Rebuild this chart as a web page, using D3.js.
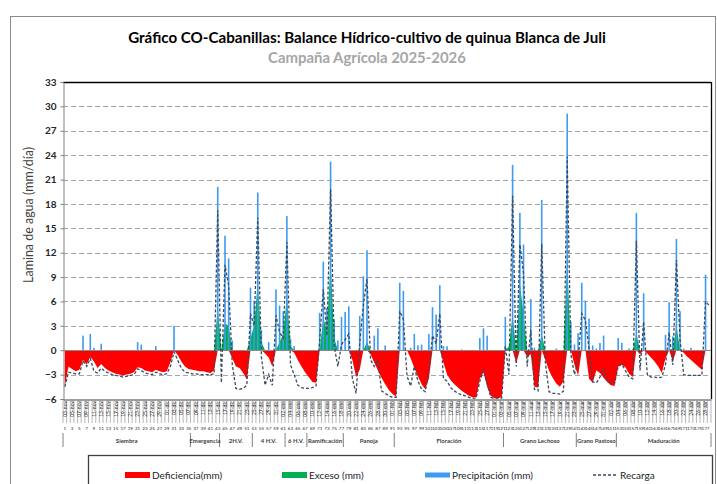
<!DOCTYPE html>
<html>
<head>
<meta charset="utf-8">
<script src="https://cdn.jsdelivr.net/npm/d3@7"></script>
<style>
  body { margin: 0; background: #fff; }
  text { font-family: Lato, "Open Sans", sans-serif; }
</style>
</head>
<body>
<div id="chart"></div>
<script>
// ---- data (day 1 = 03-nov-2025) ----
var startDate = "2025-11-03";
var nDays = 178;

var precipitacion = [
  0, 0, 0, 0, 0, 1.8, 0, 2.0, 0.3, 0,
  0.8, 0, 0, 0, 0, 0, 0, 0, 0, 0,
  1.0, 0.7, 0, 0, 0, 0.5, 0, 0, 0, 0,
  3.0, 0, 0, 0, 0, 0, 0, 0, 0, 0,
  0, 0, 20.1, 0, 14.1, 11.3, 1.2, 0, 0, 0,
  0, 7.7, 6.1, 19.4, 2.5, 0, 1.0, 0, 7.5, 5.5,
  4.8, 16.5, 1.4, 0.5, 0, 0, 0, 0, 0, 0,
  4.6, 10.9, 5.2, 23.2, 3.8, 1.2, 4.1, 4.7, 5.4, 0,
  0, 4.2, 9.1, 12.3, 0, 1.8, 2.7, 0, 0.6, 0,
  0, 0, 8.3, 7.3, 0, 0.3, 2.0, 0.6, 0.7, 0,
  2.0, 5.3, 4.4, 8.0, 0.5, 0.5, 0, 0, 0, 0.1,
  0, 0, 0, 0, 1.5, 2.7, 1.8, 0, 0, 0,
  0, 4.1, 0, 22.8, 0, 16.9, 13.0, 0, 6.3, 0.3,
  0, 18.5, 0, 0, 0, 0.2, 0, 0, 29.1, 3.5,
  0.7, 2.1, 8.3, 6.1, 3.9, 0.6, 0.2, 0.9, 1.8, 0,
  0, 0, 1.5, 0.9, 0, 0.2, 0.1, 16.9, 0, 7.0,
  0, 0, 0, 0, 0, 1.9, 5.9, 1.7, 13.7, 4.8,
  0.2, 0, 0.3, 0, 0, 0, 9.3, 0
];

var deficiencia = [
  -4.5, -2.0, -2.3, -2.6, -2.4, -1.2, -1.8, -0.8, -1.4, -2.2,
  -1.7, -2.2, -2.5, -2.7, -2.9, -3.0, -3.1, -3.0, -2.9, -2.7,
  -2.1, -2.2, -2.5, -2.6, -2.7, -2.4, -2.6, -2.7, -2.6, -1.5,
  0, -0.6, -1.4, -2.0, -2.3, -2.4, -2.5, -2.6, -2.6, -2.7,
  -2.8, -2.5, 0, 0, 0, 0, -1.0, -2.0, -2.2, -2.8,
  -3.6, 0, 0, 0, 0, -0.4, -0.9, -2.0, 0, 0,
  0, 0, 0, -0.3, -1.2, -2.0, -2.7, -3.3, -3.9, -4.0,
  0, 0, 0, 0, 0, 0, 0, 0, 0, -1.2,
  -3.3, -2.4, 0, 0, -0.5, -1.5, -2.5, -3.4, -4.2, -4.9,
  -5.4, -5.7, 0, 0, 0, -1.0, -2.2, -3.2, -4.2, -4.8,
  -3.5, 0, 0, 0, -1.5, -3.0, -3.7, -4.2, -4.6, -5.0,
  -5.3, -5.6, -5.8, -5.8, -3.5, -2.7, -4.5, -5.6, -5.9, -5.9,
  -5.8, 0, 0, 0, -1.6, 0, 0, -0.8, -0.5, -4.5,
  -4.6, 0, -1.2, -2.5, -3.4, -4.1, -4.5, -3.8, 0, 0,
  -1.8, -3.1, 0, 0, -3.5, -4.0, -2.5, -2.8, -3.4, -3.9,
  -4.3, -4.4, -2.0, -1.8, -2.1, -2.9, -3.3, 0, -0.5, 0,
  -0.4, -0.9, -1.4, -2.0, -2.8, -1.0, 0, -1.4, 0, 0,
  -0.3, -0.8, -1.2, -1.6, -2.0, -2.4, 0, 0
];

var exceso = [
  0, 0, 0, 0, 0, 0, 0, 0, 0, 0,
  0, 0, 0, 0, 0, 0, 0, 0, 0, 0,
  0, 0, 0, 0, 0, 0, 0, 0, 0, 0,
  0, 0, 0, 0, 0, 0, 0, 0, 0, 0,
  0, 0, 5.3, 0, 3.3, 3.0, 0, 0, 0, 0,
  0, 1.5, 3.0, 8.4, 1.0, 0, 0, 0, 0, 1.0,
  2.0, 6.6, 0.5, 0, 0, 0, 0, 0, 0, 0,
  0, 4.0, 2.5, 11.0, 1.5, 0, 0, 0, 0, 0,
  0, 0, 0, 1.0, 0, 0, 0, 0, 0, 0,
  0, 0, 0, 0, 0, 0, 0, 0, 0, 0,
  0, 0, 0, 0, 0, 0, 0, 0, 0, 0,
  0, 0, 0, 0, 0, 0, 0, 0, 0, 0,
  0, 0, 0.5, 4.3, 0, 8.2, 4.5, 0, 0, 0,
  0, 2.0, 0, 0, 0, 0, 0, 0, 11.1, 0,
  0, 0, 0, 0, 0, 0, 0, 0, 0, 0,
  0, 0, 0, 0, 0, 0, 0, 2.1, 0, 0,
  0, 0, 0, 0, 0, 0, 0, 0, 3.1, 0,
  0, 0, 0, 0, 0, 0, 0, 0
];

var recarga = [
  -4.5, -2.7, -2.8, -2.9, -2.9, -1.3, -2.0, -1.0, -2.6, -2.8,
  -2.2, -2.6, -2.8, -3.0, -3.1, -3.2, -3.3, -3.2, -3.1, -3.0,
  -2.3, -2.5, -2.8, -2.9, -3.0, -2.7, -2.9, -3.0, -2.9, -2.0,
  -0.2, -1.2, -2.2, -2.7, -2.8, -2.9, -2.9, -3.0, -3.0, -3.0,
  -3.0, -2.9, 17.2, -4.0, 10.5, 8.0, -1.8, -4.7, -4.8, -4.7,
  -4.3, 4.5, 3.0, 16.3, -0.8, -4.3, -3.0, -4.3, 4.3, 2.2,
  1.5, 13.3, -1.8, -3.0, -4.3, -4.6, -4.7, -4.7, -4.6, -4.4,
  1.2, 7.5, 1.8, 19.8, 0.5, -2.0, 0.7, 1.3, 2.0, -3.5,
  -5.3, 0.8, 5.5, 8.8, -1.2, -2.0, -1.2, -5.0, -5.3, -5.6,
  -5.8, -5.8, 4.8, 3.8, -3.2, -4.4, -2.0, -3.8, -4.8, -5.1,
  -2.5, 1.8, 0.8, 4.5, -3.5, -3.8, -4.6, -5.0, -5.3, -5.5,
  -5.6, -5.8, -5.9, -5.9, -3.8, -2.5, -4.0, -5.8, -5.9, -5.9,
  -5.9, 0.5, -3.0, 19.0, -2.0, 13.0, 9.5, -2.0, 2.5, -4.8,
  -5.0, 13.1, -1.5, -5.1, -5.3, -5.3, -5.4, -5.0, 23.8, -0.5,
  -3.0, -1.3, 4.5, 3.7, 0.2, -3.9, -4.0, -3.3, -2.3, -3.9,
  -4.0, -4.1, -2.0, -1.7, -2.5, -3.3, -3.5, 13.5, -2.5, 3.5,
  -3.0, -3.3, -3.3, -3.4, -3.3, -1.8, 2.2, -1.8, 11.1, 1.3,
  -3.0, -3.1, -3.1, -3.1, -3.1, -3.1, 6.0, 5.5
];

// crop stages: name, first day, last day
var fases = ["Siembra", "Emergencia", "2H.V.", "4 H.V.", "6 H.V.", "Ramificación",
             "Panoja", "Floración", "Grano Lechoso", "Grano Pastoso", "Maduración"];
var faseInicio = [1, 36, 44, 53, 62, 68, 78, 92, 122, 142, 153];
var faseFin    = [35, 43, 52, 61, 67, 77, 91, 121, 141, 152, 178];

var yTicks = [-6, -3, 0, 3, 6, 9, 12, 15, 18, 21, 24, 27, 30, 33];
var mesesEs = ["ene", "feb", "mar", "abr", "may", "jun", "jul", "ago", "set", "oct", "nov", "dic"];

// ---- layout ----
var svgWidth = 717;
var svgHeight = 484;
var plot = {left: 63, right: 711, top: 82, bottom: 399};

var days = d3.range(1, nDays + 1);
var dates = d3.timeDay.range(new Date(startDate + "T00:00:00"),
                             d3.timeDay.offset(new Date(startDate + "T00:00:00"), nDays));

var svg = d3.select("#chart")
    .append("svg")
    .attr("width", svgWidth)
    .attr("height", svgHeight);

svg.append("rect")
    .attr("width", svgWidth)
    .attr("height", svgHeight)
    .attr("fill", "#fff");

// outer chart frame
svg.append("rect")
    .attr("x", 10.5)
    .attr("y", 16.5)
    .attr("width", 705)
    .attr("height", 480)
    .attr("fill", "none")
    .attr("stroke", "#8c8c8c");

var xScale = d3.scaleBand()
    .domain(days)
    .range([plot.left, plot.right])
    .padding(0);

var yScale = d3.scaleLinear()
    .domain([-6, 33])
    .range([plot.bottom, plot.top]);

var cx = d => xScale(d) + xScale.bandwidth() / 2;

// ---- titles ----
function fitText(sel, target) {
    var w = sel.node().getComputedTextLength();
    var fs = parseFloat(sel.attr("font-size"));
    sel.attr("font-size", (fs * target / w).toFixed(2));
}

var title = svg.append("text")
    .attr("x", 367)
    .attr("y", 43)
    .attr("text-anchor", "middle")
    .attr("font-size", 16)
    .attr("font-weight", "bold")
    .attr("fill", "#000")
    .text("Gráfico CO-Cabanillas: Balance Hídrico-cultivo de quinua Blanca de Juli");
fitText(title, 478);

var subtitle = svg.append("text")
    .attr("x", 367)
    .attr("y", 63)
    .attr("text-anchor", "middle")
    .attr("font-size", 14)
    .attr("font-weight", "bold")
    .attr("fill", "#a6a6a6")
    .text("Campaña Agrícola 2025-2026");
fitText(subtitle, 198);

// y axis label
var ylab = svg.append("text")
    .attr("transform", "translate(33, 215) rotate(-90)")
    .attr("text-anchor", "middle")
    .attr("font-size", 13)
    .attr("fill", "#404040")
    .text("Lamina de agua (mm/día)");
fitText(ylab, 136);

// ---- gridlines ----
var chartGroup = svg.append("g");

chartGroup.selectAll(".grid")
    .data(yTicks.filter(t => t > -6 && t < 33 && t !== 0))
    .enter()
    .append("line")
    .attr("class", "grid")
    .attr("x1", plot.left)
    .attr("x2", plot.right)
    .attr("y1", d => Math.round(yScale(d)) + 0.5)
    .attr("y2", d => Math.round(yScale(d)) + 0.5)
    .attr("stroke", "#a6a6a6")
    .attr("stroke-dasharray", "5,3");

// ---- areas ----
var areaGen = d3.area()
    .x((d, i) => cx(days[i]))
    .y0(yScale(0))
    .y1(d => yScale(d));

chartGroup.append("path")
    .datum(deficiencia)
    .attr("d", areaGen)
    .attr("fill", "#ff0000");

chartGroup.append("path")
    .datum(exceso)
    .attr("d", areaGen)
    .attr("fill", "#00b050");

// ---- precipitation bars ----
chartGroup.selectAll(".bar")
    .data(days.filter((d, i) => precipitacion[i] > 0))
    .enter()
    .append("rect")
    .attr("class", "bar")
    .attr("x", d => cx(d) - 0.8)
    .attr("width", 1.6)
    .attr("y", d => yScale(precipitacion[d - 1]))
    .attr("height", d => yScale(0) - yScale(precipitacion[d - 1]))
    .attr("fill", "#3d9bf0");

// zero line
chartGroup.append("line")
    .attr("x1", plot.left)
    .attr("x2", plot.right)
    .attr("y1", Math.round(yScale(0)) + 0.5)
    .attr("y2", Math.round(yScale(0)) + 0.5)
    .attr("stroke", "#8c8c8c")
    .attr("stroke-width", 1.2);

// ---- recarga line ----
var lineGen = d3.line()
    .x((d, i) => cx(days[i]))
    .y(d => yScale(d));

chartGroup.append("path")
    .datum(recarga)
    .attr("d", lineGen)
    .attr("fill", "none")
    .attr("stroke", "#3b4a5e")
    .attr("stroke-width", 1.3)
    .attr("stroke-dasharray", "3,2");

// top and right border of plot
chartGroup.append("line")
    .attr("x1", plot.left).attr("x2", plot.right)
    .attr("y1", plot.top + 0.5).attr("y2", plot.top + 0.5)
    .attr("stroke", "#000").attr("stroke-width", 1.3);
chartGroup.append("line")
    .attr("x1", plot.right + 0.5).attr("x2", plot.right + 0.5)
    .attr("y1", plot.top).attr("y2", plot.bottom)
    .attr("stroke", "#000").attr("stroke-width", 1.3);

// ---- y axis ----
var leftAxis = d3.axisLeft(yScale)
    .tickValues(yTicks)
    .tickSize(3)
    .tickPadding(4);

var yAxis = svg.append("g")
    .attr("transform", `translate(${plot.left + 0.5}, 0)`)
    .call(leftAxis);
yAxis.select(".domain").attr("stroke", "#808080");
yAxis.selectAll(".tick line").attr("stroke", "#808080");
yAxis.selectAll(".tick text")
    .attr("font-size", 10)
    .attr("font-weight", "bold")
    .attr("fill", "#262626")
    .style("font-family", "Lato, sans-serif");

// ---- x axis table: dates, day numbers, stages ----
var bottomAxis = d3.axisBottom(xScale)
    .tickValues(days.filter(d => d % 2 === 1))
    .tickSize(0)
    .tickFormat("");

var xAxis = svg.append("g")
    .attr("transform", `translate(0, ${plot.bottom + 0.5})`)
    .call(bottomAxis);
xAxis.select(".domain").attr("stroke", "#404040").attr("stroke-width", 1.2);

var tableGroup = svg.append("g");

// category separators
tableGroup.selectAll(".sep")
    .data(d3.range(0, nDays + 1))
    .enter()
    .append("line")
    .attr("x1", d => plot.left + d * xScale.bandwidth())
    .attr("x2", d => plot.left + d * xScale.bandwidth())
    .attr("y1", plot.bottom)
    .attr("y2", 423)
    .attr("stroke", "#9a9a9a")
    .attr("stroke-width", 0.7);

var fmtDate = d => d3.timeFormat("%d")(d) + "-" + mesesEs[d.getMonth()];

tableGroup.selectAll(".fecha")
    .data(days.filter(d => d % 2 === 1))
    .enter()
    .append("text")
    .attr("transform", d => `translate(${cx(d) + 1.8}, 401) rotate(-90)`)
    .attr("text-anchor", "end")
    .attr("font-size", 5)
    .attr("fill", "#262626")
    .text(d => fmtDate(dates[d - 1]));

tableGroup.selectAll(".num")
    .data(days.filter(d => d % 2 === 1))
    .enter()
    .append("text")
    .attr("x", d => cx(d))
    .attr("y", 430)
    .attr("text-anchor", "middle")
    .attr("font-size", 4.6)
    .attr("fill", "#262626")
    .text(d => d);

// stage separators and labels
var faseBounds = [faseInicio[0]].concat(faseFin.map(d => d + 1));
tableGroup.selectAll(".fsep")
    .data(faseBounds)
    .enter()
    .append("line")
    .attr("x1", d => xScale(d) !== undefined ? xScale(d) : plot.right)
    .attr("x2", d => xScale(d) !== undefined ? xScale(d) : plot.right)
    .attr("y1", 433)
    .attr("y2", 447)
    .attr("stroke", "#606060")
    .attr("stroke-width", 0.8);

tableGroup.selectAll(".fase")
    .data(fases)
    .enter()
    .append("text")
    .attr("x", (d, i) => (xScale(faseInicio[i]) + xScale(faseFin[i]) + xScale.bandwidth()) / 2)
    .attr("y", 443)
    .attr("text-anchor", "middle")
    .attr("font-size", 6)
    .attr("font-weight", "bold")
    .attr("fill", "#404040")
    .text(d => d);

// ---- legend ----
var legend = svg.append("g");
legend.append("rect")
    .attr("x", 88.5)
    .attr("y", 455.5)
    .attr("width", 624)
    .attr("height", 40)
    .attr("fill", "none")
    .attr("stroke", "#404040")
    .attr("stroke-width", 1.3);

var legendItems = [
    {label: "Deficiencia(mm)", x: 125, color: "#ff0000", type: "area"},
    {label: "Exceso (mm)", x: 282, color: "#00b050", type: "area"},
    {label: "Precipitación (mm)", x: 425, color: "#3d9bf0", type: "bar"},
    {label: "Recarga", x: 593, color: "#3b4a5e", type: "line"}
];

legendItems.forEach(function(it) {
    if (it.type === "line") {
        legend.append("line")
            .attr("x1", it.x).attr("x2", it.x + 23)
            .attr("y1", 475).attr("y2", 475)
            .attr("stroke", it.color)
            .attr("stroke-width", 1.3)
            .attr("stroke-dasharray", "3,2");
    } else {
        legend.append("rect")
            .attr("x", it.x)
            .attr("y", it.type === "bar" ? 472.5 : 472)
            .attr("width", 25)
            .attr("height", it.type === "bar" ? 5 : 6)
            .attr("fill", it.color);
    }
    legend.append("text")
        .attr("x", it.x + (it.type === "line" ? 27 : 27))
        .attr("y", 478.5)
        .attr("font-size", 10)
        .attr("fill", "#262626")
        .text(it.label);
});
</script>
</body>
</html>
